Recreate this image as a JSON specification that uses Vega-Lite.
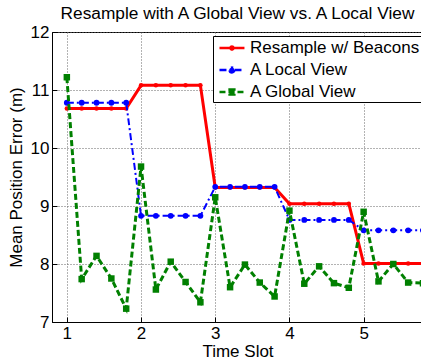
{
  "$schema": "https://vega.github.io/schema/vega-lite/v6.json",
  "autosize": "none",
  "padding": {"left": 52, "top": 32, "right": 0, "bottom": 40},
  "width": 371,
  "height": 290,
  "title": {"text": "Resample with A Global View vs. A Local View", "fontSize": 17.3, "fontWeight": "normal", "color": "black", "frame": "group", "offset": 1},
  "config": {
    "font": "Liberation Sans",
    "view": {"stroke": "black", "strokeWidth": 1},
    "axis": {"labelFontSize": 17, "labelColor": "black", "titleFontSize": 17, "titleFontWeight": "normal", "titleColor": "black", "domainColor": "black", "tickColor": "black", "gridColor": "#666666", "gridDash": [1, 2], "gridOpacity": 1, "gridWidth": 1}
  },
  "datasets": {
    "d": [
      {"x": 1.0, "y": 10.68, "s": "Resample w/ Beacons"},
      {"x": 1.2, "y": 10.68, "s": "Resample w/ Beacons"},
      {"x": 1.4, "y": 10.68, "s": "Resample w/ Beacons"},
      {"x": 1.6, "y": 10.68, "s": "Resample w/ Beacons"},
      {"x": 1.8, "y": 10.68, "s": "Resample w/ Beacons"},
      {"x": 2.0, "y": 11.08, "s": "Resample w/ Beacons"},
      {"x": 2.2, "y": 11.08, "s": "Resample w/ Beacons"},
      {"x": 2.4, "y": 11.08, "s": "Resample w/ Beacons"},
      {"x": 2.6, "y": 11.08, "s": "Resample w/ Beacons"},
      {"x": 2.8, "y": 11.08, "s": "Resample w/ Beacons"},
      {"x": 3.0, "y": 9.32, "s": "Resample w/ Beacons"},
      {"x": 3.2, "y": 9.32, "s": "Resample w/ Beacons"},
      {"x": 3.4, "y": 9.32, "s": "Resample w/ Beacons"},
      {"x": 3.6, "y": 9.32, "s": "Resample w/ Beacons"},
      {"x": 3.8, "y": 9.32, "s": "Resample w/ Beacons"},
      {"x": 4.0, "y": 9.04, "s": "Resample w/ Beacons"},
      {"x": 4.2, "y": 9.04, "s": "Resample w/ Beacons"},
      {"x": 4.4, "y": 9.04, "s": "Resample w/ Beacons"},
      {"x": 4.6, "y": 9.04, "s": "Resample w/ Beacons"},
      {"x": 4.8, "y": 9.04, "s": "Resample w/ Beacons"},
      {"x": 5.0, "y": 8.01, "s": "Resample w/ Beacons"},
      {"x": 5.2, "y": 8.01, "s": "Resample w/ Beacons"},
      {"x": 5.4, "y": 8.01, "s": "Resample w/ Beacons"},
      {"x": 5.6, "y": 8.01, "s": "Resample w/ Beacons"},
      {"x": 5.8, "y": 8.01, "s": "Resample w/ Beacons"},
      {"x": 1.0, "y": 10.78, "s": "A Local View"},
      {"x": 1.2, "y": 10.78, "s": "A Local View"},
      {"x": 1.4, "y": 10.78, "s": "A Local View"},
      {"x": 1.6, "y": 10.78, "s": "A Local View"},
      {"x": 1.8, "y": 10.78, "s": "A Local View"},
      {"x": 2.0, "y": 8.83, "s": "A Local View"},
      {"x": 2.2, "y": 8.83, "s": "A Local View"},
      {"x": 2.4, "y": 8.83, "s": "A Local View"},
      {"x": 2.6, "y": 8.83, "s": "A Local View"},
      {"x": 2.8, "y": 8.83, "s": "A Local View"},
      {"x": 3.0, "y": 9.33, "s": "A Local View"},
      {"x": 3.2, "y": 9.33, "s": "A Local View"},
      {"x": 3.4, "y": 9.33, "s": "A Local View"},
      {"x": 3.6, "y": 9.33, "s": "A Local View"},
      {"x": 3.8, "y": 9.33, "s": "A Local View"},
      {"x": 4.0, "y": 8.76, "s": "A Local View"},
      {"x": 4.2, "y": 8.76, "s": "A Local View"},
      {"x": 4.4, "y": 8.76, "s": "A Local View"},
      {"x": 4.6, "y": 8.76, "s": "A Local View"},
      {"x": 4.8, "y": 8.76, "s": "A Local View"},
      {"x": 5.0, "y": 8.58, "s": "A Local View"},
      {"x": 5.2, "y": 8.58, "s": "A Local View"},
      {"x": 5.4, "y": 8.58, "s": "A Local View"},
      {"x": 5.6, "y": 8.58, "s": "A Local View"},
      {"x": 5.8, "y": 8.58, "s": "A Local View"},
      {"x": 1.0, "y": 11.22, "s": "A Global View"},
      {"x": 1.2, "y": 7.74, "s": "A Global View"},
      {"x": 1.4, "y": 8.14, "s": "A Global View"},
      {"x": 1.6, "y": 7.75, "s": "A Global View"},
      {"x": 1.8, "y": 7.23, "s": "A Global View"},
      {"x": 2.0, "y": 9.68, "s": "A Global View"},
      {"x": 2.2, "y": 7.56, "s": "A Global View"},
      {"x": 2.4, "y": 8.04, "s": "A Global View"},
      {"x": 2.6, "y": 7.69, "s": "A Global View"},
      {"x": 2.8, "y": 7.34, "s": "A Global View"},
      {"x": 3.0, "y": 9.15, "s": "A Global View"},
      {"x": 3.2, "y": 7.60, "s": "A Global View"},
      {"x": 3.4, "y": 7.99, "s": "A Global View"},
      {"x": 3.6, "y": 7.68, "s": "A Global View"},
      {"x": 3.8, "y": 7.44, "s": "A Global View"},
      {"x": 4.0, "y": 8.92, "s": "A Global View"},
      {"x": 4.2, "y": 7.66, "s": "A Global View"},
      {"x": 4.4, "y": 7.96, "s": "A Global View"},
      {"x": 4.6, "y": 7.67, "s": "A Global View"},
      {"x": 4.8, "y": 7.59, "s": "A Global View"},
      {"x": 5.0, "y": 8.90, "s": "A Global View"},
      {"x": 5.2, "y": 7.70, "s": "A Global View"},
      {"x": 5.4, "y": 8.00, "s": "A Global View"},
      {"x": 5.6, "y": 7.68, "s": "A Global View"},
      {"x": 5.8, "y": 7.67, "s": "A Global View"}
    ]
  },
  "data": {"name": "d"},
  "encoding": {
    "x": {"field": "x", "type": "quantitative", "scale": {"domain": [0.8, 5.8], "nice": false, "zero": false},
      "axis": {"values": [1, 2, 3, 4, 5], "tickSize": -5, "labelPadding": 8, "title": "Time Slot", "titlePadding": 2, "grid": true}},
    "y": {"field": "y", "type": "quantitative", "scale": {"domain": [7, 12], "nice": false, "zero": false},
      "axis": {"values": [7, 8, 9, 10, 11, 12], "tickSize": -5, "labelPadding": 8, "title": "Mean Position Error (m)", "titlePadding": 5, "grid": true}}
  },
  "layer": [
    {
      "transform": [{"filter": "datum.s == 'Resample w/ Beacons'"}],
      "mark": {"type": "line", "color": "#ff0000", "strokeWidth": 3, "strokeJoin": "round"}
    },
    {
      "transform": [{"filter": "datum.s == 'Resample w/ Beacons'"}],
      "mark": {"type": "point", "filled": true, "shape": "circle", "size": 20, "opacity": 1, "color": "#ff0000"}
    },
    {
      "transform": [{"filter": "datum.s == 'A Local View'"}],
      "mark": {"type": "line", "color": "#0000ff", "strokeWidth": 2, "strokeDash": [7, 3, 2, 3]}
    },
    {
      "transform": [{"filter": "datum.s == 'A Local View'"}],
      "mark": {"type": "point", "filled": true, "shape": "circle", "size": 34, "opacity": 1, "color": "#0000ff"}
    },
    {
      "transform": [{"filter": "datum.s == 'A Global View'"}],
      "mark": {"type": "line", "color": "#008000", "strokeWidth": 3, "strokeDash": [6, 3]}
    },
    {
      "transform": [{"filter": "datum.s == 'A Global View'"}],
      "mark": {"type": "point", "filled": true, "shape": "square", "size": 42, "opacity": 1, "color": "#008000"}
    },
    {
      "transform": [{"filter": "datum.x < 0"}],
      "mark": {"type": "point", "filled": true, "strokeWidth": 2.5, "opacity": 1},
      "encoding": {
        "color": {"field": "s", "type": "nominal", "sort": null,
          "scale": {"domain": ["Resample w/ Beacons", "A Local View", "A Global View"], "range": ["#ff0000", "#0000ff", "#008000"]},
          "legend": {"orient": "none", "legendX": 161, "legendY": 4, "title": null, "strokeColor": "black", "fillColor": "white", "padding": 2, "labelFontSize": 17, "labelColor": "black", "labelOffset": 15, "rowPadding": 4, "symbolSize": 289, "symbolStrokeWidth": 2.5, "symbolOpacity": 1, "labelLimit": 300, "cornerRadius": 0}},
        "stroke": {"field": "s", "type": "nominal", "sort": null,
          "scale": {"domain": ["Resample w/ Beacons", "A Local View", "A Global View"], "range": ["#ff0000", "#0000ff", "#008000"]},
          "legend": {"orient": "none", "legendX": 161, "legendY": 4, "title": null}},
        "shape": {"field": "s", "type": "nominal", "sort": null,
          "scale": {"domain": ["Resample w/ Beacons", "A Local View", "A Global View"], "range": [
          "M-0.65,0H2.29M1.0,0A0.18,0.18,0,1,1,0.64,0A0.18,0.18,0,1,1,1.0,0Z",
          "M-0.65,0H2.29M1.1,0A0.28,0.28,0,1,1,0.54,0A0.28,0.28,0,1,1,1.1,0Z",
          "M-0.65,0H2.29M0.54,-0.28H1.1V0.28H0.54Z"]},
          "legend": {"orient": "none", "legendX": 161, "legendY": 4, "title": null}},
        "strokeDash": {"field": "s", "type": "nominal", "sort": null,
          "scale": {"domain": ["Resample w/ Beacons", "A Local View", "A Global View"], "range": [[1, 0], [7, 3, 2, 3], [6, 3]]},
          "legend": {"orient": "none", "legendX": 161, "legendY": 4, "title": null}}
      }
    }
  ]
}
